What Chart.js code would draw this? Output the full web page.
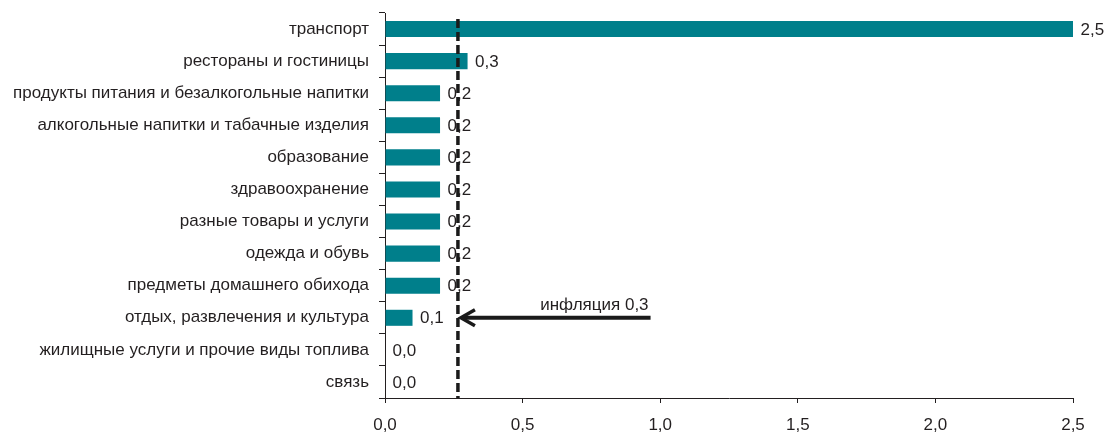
<!DOCTYPE html>
<html><head><meta charset="utf-8">
<script src="https://cdn.jsdelivr.net/npm/chart.js@4.4.0/dist/chart.umd.min.js"></script>
<style>html,body{margin:0;padding:0;background:#fff}#wrap{width:1110px;height:432px}</style>
</head><body><div id="wrap"><canvas id="c" width="1110" height="432"></canvas></div>
<script>
const categories = ["транспорт","рестораны и гостиницы","продукты питания и безалкогольные напитки","алкогольные напитки и табачные изделия","образование","здравоохранение","разные товары и услуги","одежда и обувь","предметы домашнего обихода","отдых, развлечения и культура","жилищные услуги и прочие виды топлива","связь"];
const values = [2.5,0.3,0.2,0.2,0.2,0.2,0.2,0.2,0.2,0.1,0.0,0.0];
const xTicks = [0,0.5,1,1.5,2,2.5];
const inflationValue = 0.265;
const inflationLabel = "инфляция 0,3";
const arrowStart = 0.965;
const arrowRowIndex = 9;

const fmt = v => v.toFixed(1).replace('.', ',');
const FONT = "'Liberation Sans', Arial, sans-serif";
const FS = 17;
const TXT = '#231f20';

const overlay = {
  id: 'overlay',
  afterDatasetsDraw(chart) {
    const ctx = chart.ctx, x = chart.scales.x, y = chart.scales.y;
    const meta = chart.getDatasetMeta(0);
    ctx.save();
    ctx.font = FS + 'px ' + FONT;
    ctx.fillStyle = TXT;
    ctx.textBaseline = 'middle';
    ctx.textAlign = 'left';
    meta.data.forEach((bar, i) => {
      ctx.fillText(fmt(values[i]), x.getPixelForValue(values[i]) + 7.5, bar.y + 1);
    });
    // dashed inflation line
    const ix = x.getPixelForValue(inflationValue);
    ctx.strokeStyle = '#1a1a1a';
    ctx.lineWidth = 3.5;
    ctx.setLineDash([9, 4]);
    ctx.beginPath();
    ctx.moveTo(ix, chart.chartArea.top + 6);
    ctx.lineTo(ix, chart.chartArea.bottom);
    ctx.stroke();
    ctx.setLineDash([]);
    // arrow
    const ay = y.getPixelForValue(arrowRowIndex);
    const ax0 = x.getPixelForValue(arrowStart);
    ctx.lineWidth = 4;
    ctx.beginPath();
    ctx.moveTo(ax0, ay);
    ctx.lineTo(ix + 4, ay);
    ctx.stroke();
    ctx.lineWidth = 3.5;
    ctx.lineJoin = 'miter';
    ctx.beginPath();
    ctx.moveTo(ix + 17, ay - 8);
    ctx.lineTo(ix + 3, ay);
    ctx.lineTo(ix + 17, ay + 8);
    ctx.stroke();
    ctx.textAlign = 'right';
    ctx.textBaseline = 'alphabetic';
    ctx.fillStyle = TXT;
    ctx.fillText(inflationLabel, ax0 - 2, ay - 8);
    ctx.restore();
  }
};

new Chart(document.getElementById('c'), {
  type: 'bar',
  data: { labels: categories, datasets: [{ data: values, backgroundColor: '#007f8b', barPercentage: 0.5, categoryPercentage: 1.0 }] },
  options: {
    indexAxis: 'y',
    responsive: false,
    animation: false,
    layout: { padding: { top: 13, right: 37, left: 0, bottom: 0 } },
    plugins: { legend: { display: false }, tooltip: { enabled: false } },
    scales: {
      x: {
        min: 0, max: 2.5,
        afterBuildTicks(s) { s.ticks = xTicks.map(v => ({ value: v })); },
        afterFit(s) { s.height = 34; s.paddingLeft = 0; s.paddingRight = 0; },
        grid: { drawOnChartArea: false, tickLength: 5, color: '#231f20' },
        border: { color: '#231f20', width: 1 },
        ticks: { font: { family: FONT, size: FS }, color: TXT, padding: 12, maxRotation: 0, callback: v => fmt(v) }
      },
      y: {
        afterFit(s) { s.width = 385; s.paddingTop = 0; s.paddingBottom = 0; },
        grid: { drawOnChartArea: false, tickLength: 6, color: '#231f20', offset: true },
        border: { color: '#231f20', width: 1 },
        ticks: { font: { family: FONT, size: FS }, color: TXT, padding: 10 }
      }
    }
  },
  plugins: [overlay]
});
</script></body></html>
